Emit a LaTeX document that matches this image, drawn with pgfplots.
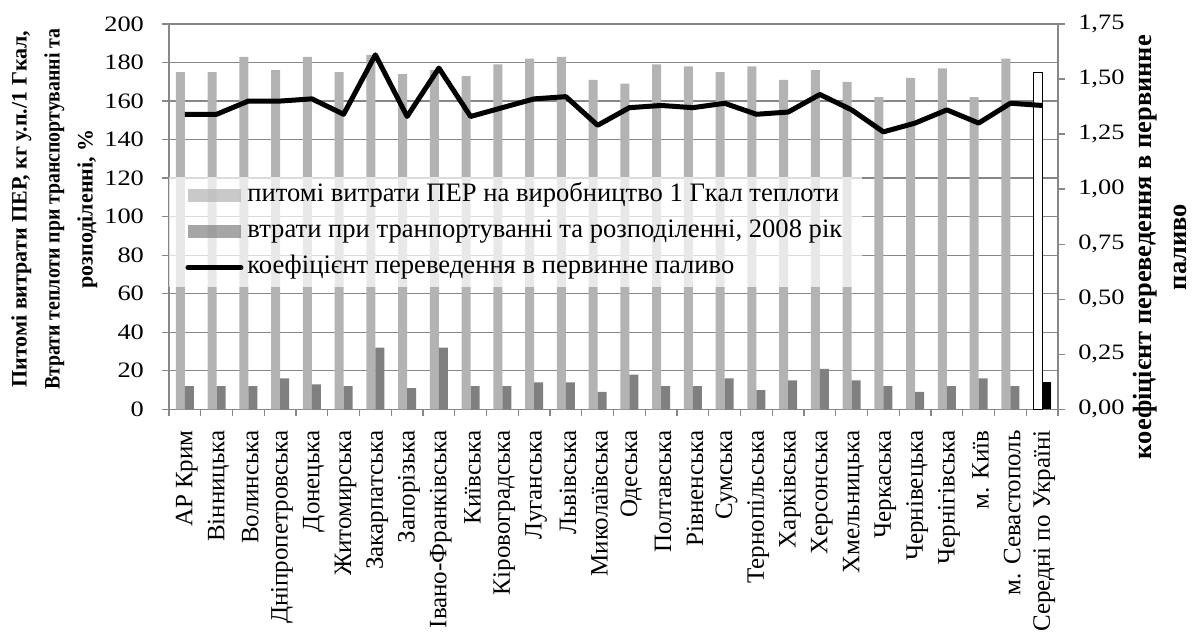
\documentclass[border=0pt]{standalone}
\usepackage{fontspec}
\setmainfont{Liberation Serif}
\usepackage{graphicx}
\usepackage{pgfplots}
\usepackage{pgfplotstable}
\pgfplotsset{compat=1.18}

\definecolor{gridgray}{HTML}{878787}
\definecolor{barlight}{HTML}{B3B3B3}
\definecolor{bardark}{HTML}{808080}

\pgfplotsset{
  barlegend/.style={legend image code/.code={\fill[##1] (0pt,-3.25pt) rectangle (26.5pt,3.25pt);}},
  linelegend/.style={legend image code/.code={\draw[##1, line cap=round] (0pt,0pt) -- (26.5pt,0pt);}},
  common/.style={
    scale only axis, width=444.5pt, height=192.65pt,
    xmin=-0.5, xmax=27.5,
    tick align=outside,
    major tick length=3.5pt,
    axis line style={gridgray, line width=0.65pt},
    major tick style={gridgray, line width=0.65pt},
    /pgf/number format/assume math mode=true,
    yticklabel style={font=\fontsize{11}{13}\selectfont, xscale=1.2},
  },
}

% k, питомі витрати ПЕР, втрати при транспортуванні, коефіцієнт
\pgfplotstableread{
k   per   loss  coef
0   175   12    1.34
1   175   12    1.34
2   183   12    1.40
3   176   16    1.40
4   183   13    1.41
5   175   12    1.34
6   184   32    1.61
7   174   11    1.33
8   176   32    1.55
9   173   12    1.33
10  179   12    1.37
11  182   14    1.41
12  183   14    1.42
13  171   9     1.29
14  169   18    1.37
15  179   12    1.38
16  178   12    1.37
17  175   16    1.39
18  178   10    1.34
19  171   15    1.35
20  176   21    1.43
21  170   15    1.36
22  162   12    1.26
23  172   9     1.30
24  177   12    1.36
25  162   16    1.30
26  182   12    1.39
27  175   14    1.38
}\regions

\begin{document}
\begin{tikzpicture}
\begin{axis}[
  common,
  ymin=0, ymax=200,
  ytick={0,20,...,200},
  axis y line*=left,
  axis x line*=bottom,
  ymajorgrids=true,
  grid style={gridgray, line width=0.65pt},
  ybar, bar width=4.5pt,
  xtick={-0.5,0.5,...,27.5},
  x tick label as interval,
  xticklabels={АР Крим, Вінницька, Волинська, Дніпропетровська, Донецька,
    Житомирська, Закарпатська, Запорізька, Івано-Франківська, Київська,
    Кіровоградська, Луганська, Львівська, Миколаївська, Одеська, Полтавська,
    Рівненська, Сумська, Тернопільська, Харківська, Херсонська, Хмельницька,
    Черкаська, Чернівецька, Чернігівська, м. Київ, м. Севастополь,
    Середні по Україні},
  xticklabel style={xshift=1pt, yshift=-3.5pt, rotate=90, anchor=east,
    font=\fontsize{12.5}{14}\selectfont},
  yticklabel style={xshift=-4pt},
  ylabel={\begin{tabular}{@{}c@{}}Питомі витрати ПЕР, кг у.п./1 Гкал,\\
    \scalebox{0.9}[1]{Втрати теплоти при транспортуванні та}\\
    розподіленні, \%\end{tabular}},
  every axis y label/.style={at={(axis description cs:0,0.52)}, xshift=-58pt,
    rotate=90, anchor=center, inner sep=0pt,
    font=\bfseries\fontsize{11}{16.5}\selectfont},
]
\addplot[fill=barlight, draw=none, bar shift=-2.25pt] table[x=k, y=per] {\regions};
\addplot[fill=bardark, draw=none, bar shift=2.25pt] table[x=k, y=loss] {\regions};
% середні по Україні
\addplot[fill=white, draw=black, line width=0.6pt, bar shift=-2.25pt] coordinates {(27,175)};
\addplot[fill=black, draw=none, bar shift=2.25pt] coordinates {(27,14)};
\coordinate (sw) at (rel axis cs:0,0);
\coordinate (ne) at (rel axis cs:1,1);
\end{axis}

\begin{axis}[
  common,
  ymin=0, ymax=1.75,
  ytick={0,0.25,0.5,0.75,1,1.25,1.5,1.75},
  axis y line*=right,
  axis x line=none,
  yticklabel style={xshift=2pt,
    /pgf/number format/fixed, /pgf/number format/fixed zerofill,
    /pgf/number format/precision=2, /pgf/number format/use comma},
  ylabel={\begin{tabular}{@{}c@{}}коефіцієнт переведення в первинне\\паливо\end{tabular}},
  every axis y label/.style={at={(axis description cs:1,0.421)}, xshift=52pt,
    rotate=90, anchor=center, inner sep=0pt,
    font=\bfseries\fontsize{13.2}{17.5}\selectfont},
  legend style={at={(axis description cs:0,0.605)}, anchor=north west,
    draw=none, fill=white, fill opacity=0.7, text opacity=1,
    inner xsep=8pt, inner ysep=1.5pt, row sep=2pt,
    nodes={inner sep=2pt, text height=9pt, text depth=3pt},
    font=\fontsize{13.3}{15}\selectfont},
  legend cell align=left,
]
\addlegendimage{barlegend, fill=barlight, draw=none}
\addlegendentry{питомі витрати ПЕР на виробництво 1 Гкал теплоти}
\addlegendimage{barlegend, fill=bardark, draw=none}
\addlegendentry{втрати при транпортуванні та розподіленні, 2008 рік}
\addplot[linelegend, black, line width=2.5pt, line join=round] table[x=k, y=coef] {\regions};
\addlegendentry{коефіцієнт переведення в первинне паливо}
\end{axis}

\pgfresetboundingbox
\path ([shift={(-84.5pt,-116.85pt)}]sw) rectangle ([shift={(67pt,12pt)}]ne);
\end{tikzpicture}
\end{document}
